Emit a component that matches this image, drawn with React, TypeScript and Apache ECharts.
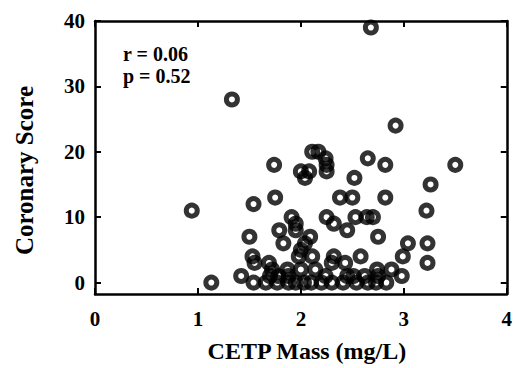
import React, { useEffect, useRef } from "react";
import * as echarts from "echarts";

const cetpMass: number[] = [
  0.94, 1.13, 1.33, 2.68, 2.92, 3.5, 3.26, 3.22,
  1.74, 1.75, 1.54, 2.11, 2.17, 2.24, 2.25, 2.25, 2.0, 2.08, 2.04, 2.65, 2.82, 2.52, 2.38, 2.5, 2.82,
  1.5, 1.79, 1.91, 1.95, 1.95, 1.83, 2.04, 2.09, 2.0, 1.98, 2.11, 2.25, 2.32, 2.45, 2.53, 2.64, 2.7, 2.75, 3.04, 3.23, 2.99, 3.23, 2.32, 2.58,
  1.53, 1.55, 1.69, 1.42, 1.54, 1.72, 1.7, 1.78, 1.77, 1.66, 1.87, 1.88, 1.88, 1.95, 2.0, 2.03, 2.14, 2.24, 2.2, 2.3, 2.3, 2.43, 2.45, 2.41, 2.51, 2.54, 2.62, 2.65, 2.74, 2.75, 2.73, 2.83, 2.88, 2.98, 2.1
];
const coronaryScore: number[] = [
  11, 0, 28, 39, 24, 18, 15, 11,
  18, 13, 12, 20, 20, 19, 18, 17, 17, 17, 16, 19, 18, 16, 13, 13, 13,
  7, 8, 10, 9, 8, 6, 6, 7, 5, 4, 4, 10, 9, 8, 10, 10, 10, 7, 6, 6, 4, 3, 4, 4,
  4, 3, 3, 1, 0, 2, 1, 1, 0, 0, 2, 1, 0, 0, 2, 0, 2, 1, 0, 0, 3, 3, 1, 0, 1, 0, 1, 0, 2, 1, 0, 0, 2, 1, 0
];
const yTicks: number[] = [0, 10, 20, 30, 40];
const statLines: string[] = ["r = 0.06", "p = 0.52"];

const FONT = "'Liberation Serif', 'Times New Roman', serif";

export default function App() {
  const ref = useRef<HTMLDivElement>(null);
  useEffect(() => {
    if (!ref.current) return;
    const chart = echarts.init(ref.current, null, { renderer: "svg" });
    const data = cetpMass.map((x, i) => [x, coronaryScore[i]]);
    const axisLine = { show: true, onZero: false, lineStyle: { color: "#000", width: 2.5 } };
    const tick = { color: "#000", width: 2 };
    chart.setOption({
      animation: false,
      backgroundColor: "#fff",
      grid: { left: 95, right: 5, top: 21, bottom: 71, show: false },
      xAxis: [
        {
          type: "value",
          min: 0,
          max: 4,
          interval: 1,
          position: "bottom",
          axisLine,
          axisTick: { show: true, inside: true, length: 6, lineStyle: tick },
          axisLabel: { color: "#000", fontFamily: FONT, fontWeight: "bold", fontSize: 21, margin: 14 },
          splitLine: { show: false },
          name: "CETP Mass (mg/L)",
          nameLocation: "middle",
          nameGap: 45,
          nameTextStyle: { color: "#000", fontFamily: FONT, fontWeight: "bold", fontSize: 24, padding: [0, 0, 0, 12] },
        },
        {
          type: "value",
          min: 0,
          max: 4,
          interval: 1,
          position: "top",
          axisLine,
          axisTick: { show: true, inside: true, length: 6, lineStyle: tick },
          axisLabel: { show: false },
          splitLine: { show: false },
        },
      ],
      yAxis: [
        {
          type: "value",
          min: -1.75,
          max: 40,
          position: "left",
          axisLine,
          axisTick: { show: true, inside: true, length: 6, customValues: yTicks, lineStyle: tick },
          axisLabel: { color: "#000", fontFamily: FONT, fontWeight: "bold", fontSize: 21, margin: 10, customValues: yTicks },
          splitLine: { show: false },
          name: "Coronary Score",
          nameLocation: "middle",
          nameGap: 58,
          nameRotate: 90,
          nameTextStyle: { color: "#000", fontFamily: FONT, fontWeight: "bold", fontSize: 25, padding: [0, 26, 0, 0] },
        },
        {
          type: "value",
          min: -1.75,
          max: 40,
          position: "right",
          axisLine,
          axisTick: { show: true, inside: true, length: 6, customValues: yTicks, lineStyle: tick },
          axisLabel: { show: false },
          splitLine: { show: false },
        },
      ],
      graphic: statLines.map((t, i) => ({
        type: "text",
        left: 123,
        top: 44 + i * 22,
        style: { text: t, fill: "#000", font: `bold 20px ${FONT}` },
      })),
      series: [
        {
          type: "scatter",
          xAxisIndex: 0,
          yAxisIndex: 0,
          data,
          symbol: "circle",
          symbolSize: 11,
          itemStyle: { color: "rgba(0,0,0,0)", borderColor: "#000", borderWidth: 5 },
        },
      ],
    });
    return () => chart.dispose();
  }, []);
  return <div ref={ref} style={{ position: "absolute", left: 0, top: 0, width: 515, height: 368 }} />;
}
